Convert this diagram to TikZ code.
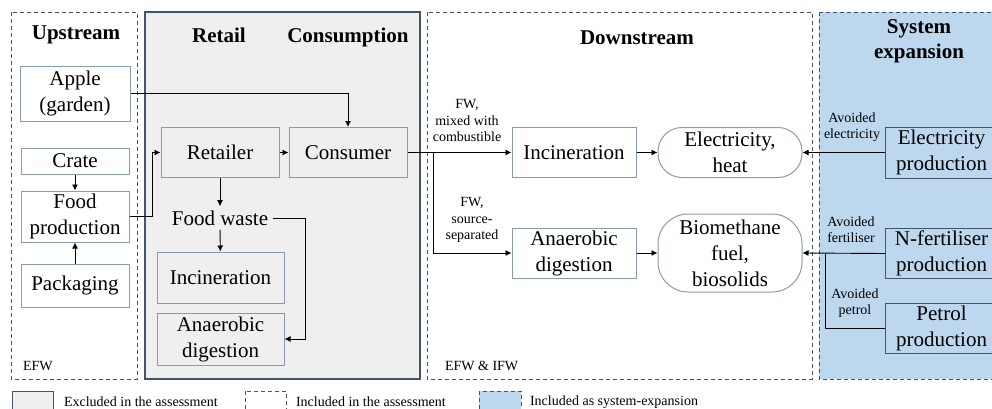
\documentclass[tikz,border=0pt]{standalone}
\usepackage{fontspec}
\setmainfont{Liberation Serif}
\usepackage{tikz}
\usetikzlibrary{arrows.meta}

\definecolor{exclgray}{HTML}{EFEFEF}
\definecolor{expblue}{HTML}{BDD7EE}
\definecolor{frameline}{HTML}{44546A}
\definecolor{boxline}{HTML}{8A9BB0}

\begin{document}
\begin{tikzpicture}[x=0.5pt,y=-0.5pt,
    >={Latex[length=3pt,width=3pt]},
    flow/.style={draw=boxline,line width=0.5pt,align=center,inner sep=1pt,
      font=\fontsize{10.5}{13}\selectfont},
    stadium/.style={flow,rounded corners=12pt},
    heading/.style={font=\fontsize{10.5}{12.5}\selectfont\bfseries,align=center},
    small/.style={font=\fontsize{7}{8.3}\selectfont,align=center},
    region/.style={draw=frameline,line width=0.5pt,dash pattern=on 2pt off 1.5pt},
    link/.style={line width=0.45pt}]
          \clip (0,0) rectangle (992,408);
          \fill[white] (0,0) rectangle (992,408);

          \draw[region] (11,12) rectangle (137,379);
          \draw[frameline,line width=0.6pt,fill=exclgray] (145,12) rectangle (420,379);
          \draw[region] (427,12) rectangle (812,379);
          \draw[region,fill=expblue] (819,12) rectangle (1000,379);

          \node[heading] (hup) at (76,35) {Upstream};
          \node[heading] (hret) at (219,35) {Retail};
          \node[heading] (hcons) at (348,37) {Consumption};
          \node[heading] (hdown) at (637,38) {Downstream};
          \node[heading] (hsys) at (919,41) {System\\expansion};
          \node[small,anchor=west] (efw) at (16,366) {EFW};
          \node[small,anchor=west] (efwifw) at (438,366) {EFW \& IFW};

          \node[flow,minimum width=55pt,minimum height=27.5pt] (apple) at (75,93.5) {Apple\\(garden)};
          \node[flow,minimum width=54pt,minimum height=13pt] (crate) at (75,161) {Crate};
          \node[flow,minimum width=54pt,minimum height=25.5pt] (foodprod) at (75,216.5) {Food\\production};
          \node[flow,minimum width=54pt,minimum height=21.5pt] (packaging) at (75,285.5) {Packaging};

          \node[flow,fill=exclgray,minimum width=59pt,minimum height=25pt] (retailer) at (220,152.5) {Retailer};
          \node[flow,fill=exclgray,minimum width=59pt,minimum height=25pt] (consumer) at (348,152.5) {Consumer};
          \node[font=\fontsize{10.5}{13}\selectfont,inner sep=2pt] (foodwaste) at (220,218) {Food waste};
          \node[flow,fill=exclgray,minimum width=63.5pt,minimum height=25.5pt] (retinc) at (220.5,277.5) {Incineration};
          \node[flow,fill=exclgray,minimum width=63.5pt,minimum height=26pt] (retad) at (220.5,339) {Anaerobic\\digestion};

          \node[flow,fill=white,minimum width=62pt,minimum height=25pt] (inc) at (574,152.5) {Incineration};
          \node[stadium,fill=white,minimum width=72pt,minimum height=25pt] (elheat) at (730,152.5) {Electricity,\\heat};
          \node[flow,fill=white,minimum width=62pt,minimum height=25pt] (ad) at (574,253) {Anaerobic\\digestion};
          \node[stadium,rounded corners=15pt,fill=white,minimum width=72pt,minimum height=39pt] (bio) at (730,253) {Biomethane\\fuel,\\biosolids};

          \node[flow,draw=frameline,minimum width=56pt,minimum height=25.5pt,anchor=west] (elprod) at (885,152.5) {Electricity\\production};
          \node[flow,draw=frameline,minimum width=56pt,minimum height=25pt,anchor=west] (nfert) at (885,253.5) {N-fertiliser\\production};
          \node[flow,draw=frameline,minimum width=56pt,minimum height=25pt,anchor=west] (petrol) at (885,328) {Petrol\\production};

          \coordinate (fwturn) at (305,218);
          \coordinate (split) at (433,152.5);
          \coordinate (join) at (825,253.5);

          \draw[link,->] (apple.east) -| (consumer.north);
          \draw[link,->] (crate) -- (foodprod);
          \draw[link,->] (packaging) -- (foodprod);
          \draw[link,->] (foodprod.east) -- ++(23,0) |- (retailer.west);
          \draw[link,->] (retailer) -- (consumer);
          \draw[link,->] (retailer) -- (foodwaste);
          \draw[link,->] (foodwaste) -- (retinc);
          \draw[link,->] (foodwaste.east) -- (fwturn) |- (retad.east);

          \draw[link,->] (consumer.east) -- (inc.west);
          \draw[link,->] (split) |- (ad.west);
          \draw[link,->] (inc) -- (elheat);
          \draw[link,->] (ad) -- (bio);
          \node[small,anchor=south] (lblmix) at (467,149) {FW,\\mixed with\\combustible};
          \node[small,anchor=south] (lblsep) at (472,250) {FW,\\source-\\separated};

          \draw[link,->] (elprod.west) -- (elheat.east);
          \draw[link,->] (nfert.west) -- (bio.east);
          \draw[link] (petrol.west) -| (join);
          \node[small,anchor=south] (lblel) at (852,149) {Avoided\\electricity};
          \node[small,anchor=south] (lblfert) at (851,250) {Avoided\\fertiliser};
          \node[small,anchor=south] (lblpet) at (855,325) {Avoided\\petrol};

          \draw[frameline,line width=0.5pt,fill=exclgray] (12,391) rectangle (53,416);
          \node[small,anchor=west] (legexcl) at (57,402) {Excluded in the assessment};
          \draw[region] (245,391) rectangle (286,416);
          \node[small,anchor=west] (leginc) at (289,402) {Included in the assessment};
          \draw[region,fill=expblue] (479,391) rectangle (521,416);
          \node[small,anchor=west] (legexp) at (523,402) {Included as system-expansion};
        \end{tikzpicture}
\end{document}
